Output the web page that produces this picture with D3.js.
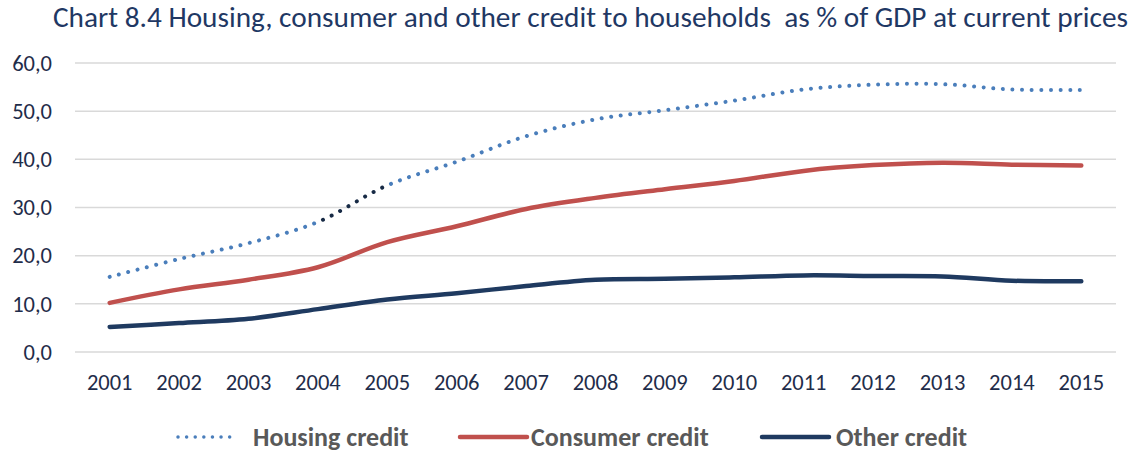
<!DOCTYPE html>
<html>
<head>
<meta charset="utf-8">
<script src="https://cdn.jsdelivr.net/npm/d3@7"></script>
<style>
  html, body { margin: 0; padding: 0; background: #fff; }
  svg { display: block; }
</style>
</head>
<body>
<svg id="chart" width="1135" height="452"></svg>
<script>
// Credit to households, % of GDP at current prices
const years = ["2001","2002","2003","2004","2005","2006","2007","2008","2009","2010","2011","2012","2013","2014","2015"];
const housingCredit  = [15.6, 19.3, 22.6, 27.0, 34.6, 39.5, 44.8, 48.3, 50.2, 52.2, 54.5, 55.5, 55.6, 54.5, 54.4];
const consumerCredit = [10.2, 13.0, 15.0, 17.6, 22.8, 26.1, 29.7, 32.0, 33.8, 35.5, 37.6, 38.8, 39.3, 38.9, 38.7];
const otherCredit    = [5.2, 6.0, 6.9, 8.9, 10.9, 12.2, 13.7, 15.0, 15.2, 15.5, 15.9, 15.8, 15.7, 14.8, 14.7];
const yTicks = [0, 10, 20, 30, 40, 50, 60];
const legendLabels = ["Housing credit", "Consumer credit", "Other credit"];
const titleText = "Chart 8.4 Housing, consumer and other credit to households  as % of GDP at current prices";

const svg = d3.select("#chart");
const margin = { left: 75, right: 19, top: 63, bottom: 100 };
const W = 1135, H = 452;

const x = d3.scaleBand().domain(years).range([margin.left, W - margin.right]);
const y = d3.scaleLinear().domain([0, 60]).range([H - margin.bottom, margin.top]);
const cx = d => x(d) + x.bandwidth() / 2;

const fontFamily = "Carlito, Calibri, 'Open Sans', 'Noto Sans', sans-serif";
const navy = "#1f2d4a";

// Title
svg.append("text")
  .attr("x", 53).attr("y", 27)
  .attr("textLength", 1075).attr("lengthAdjust", "spacingAndGlyphs")
  .attr("font-family", fontFamily).attr("font-size", 28)
  .attr("fill", "#1f3864")
  .style("white-space", "pre")
  .text(titleText);

// Gridlines
svg.append("g").selectAll("line").data(yTicks).join("line")
  .attr("x1", margin.left).attr("x2", W - margin.right)
  .attr("y1", d => y(d)).attr("y2", d => y(d))
  .attr("stroke", "#d9d9d9").attr("stroke-width", 1.5);

// Y axis labels
const yAxis = d3.axisLeft(y).tickValues(yTicks).tickSize(0).tickPadding(0)
  .tickFormat(d => d3.format(".1f")(d).replace(".", ","));
svg.append("g").attr("transform", "translate(52,0)").call(yAxis)
  .call(g => g.select(".domain").remove())
  .selectAll("text")
  .attr("dy", "0.32em").attr("y", 0)
  .attr("font-family", fontFamily).attr("font-size", 22.5).attr("fill", navy);

// X axis labels
const xAxis = d3.axisBottom(x).tickSize(0).tickPadding(0);
svg.append("g").attr("transform", `translate(0,${y(0) + 38})`).call(xAxis)
  .call(g => g.select(".domain").remove())
  .selectAll("text")
  .attr("dy", 0)
  .attr("font-family", fontFamily).attr("font-size", 22.5).attr("fill", navy);

const line = d3.line().x((d, i) => cx(years[i])).y(d => y(d)).curve(d3.curveCatmullRom.alpha(0.5));

// Other credit
svg.append("path").attr("d", line(otherCredit))
  .attr("fill", "none").attr("stroke", "#1f3a60").attr("stroke-width", 4.5)
  .attr("stroke-linecap", "round").attr("stroke-linejoin", "round");

// Consumer credit
svg.append("path").attr("d", line(consumerCredit))
  .attr("fill", "none").attr("stroke", "#c0504d").attr("stroke-width", 4.5)
  .attr("stroke-linecap", "round").attr("stroke-linejoin", "round");

// Housing credit: dotted, with the 2004–2005 segment highlighted in dark
const defs = svg.append("defs");
const hiA = cx("2004"), hiB = cx("2005");
defs.append("clipPath").attr("id", "clip-out")
  .append("path")
  .attr("d", `M0,0H${hiA}V${H}H0Z M${hiB},0H${W}V${H}H${hiB}Z`);
defs.append("clipPath").attr("id", "clip-in")
  .append("rect").attr("x", hiA).attr("y", 0).attr("width", hiB - hiA).attr("height", H);

const housingPath = line(housingCredit);
const dotDash = "0.01 9.6";
svg.append("path").attr("d", housingPath).attr("clip-path", "url(#clip-out)")
  .attr("fill", "none").attr("stroke", "#4a7ebb").attr("stroke-width", 4)
  .attr("stroke-linecap", "round").attr("stroke-dasharray", dotDash);
svg.append("path").attr("d", housingPath).attr("clip-path", "url(#clip-in)")
  .attr("fill", "none").attr("stroke", "#172a45").attr("stroke-width", 4)
  .attr("stroke-linecap", "round").attr("stroke-dasharray", dotDash);

// Legend
const legendItems = [
  { label: legendLabels[0], x1: 178, x2: 238, tx: 253, color: "#4a7ebb", dash: "0.01 8.6" },
  { label: legendLabels[1], x1: 460, x2: 527, tx: 531, color: "#c0504d", dash: null },
  { label: legendLabels[2], x1: 762, x2: 829, tx: 836, color: "#1f3a60", dash: null }
];
const lg = svg.append("g");
legendItems.forEach(it => {
  lg.append("line").attr("x1", it.x1).attr("x2", it.x2).attr("y1", 437).attr("y2", 437)
    .attr("stroke", it.color).attr("stroke-width", it.dash ? 3.5 : 4.5)
    .attr("stroke-linecap", "round")
    .attr("stroke-dasharray", it.dash);
  lg.append("text").attr("x", it.tx).attr("y", 446)
    .attr("font-family", fontFamily).attr("font-size", 26).attr("font-weight", "bold")
    .attr("fill", "#595959").text(it.label);
});
</script>
</body>
</html>
